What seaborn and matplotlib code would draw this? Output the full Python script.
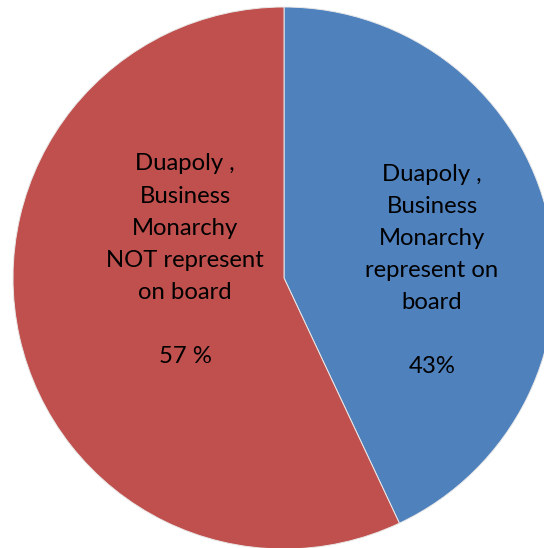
import matplotlib
matplotlib.use("Agg")
import matplotlib.pyplot as plt
import seaborn as sns

# Share of boards with / without duopoly or business-monarchy representation
categories = ["Duapoly ,\nBusiness\nMonarchy\nrepresent on\nboard",
              "Duapoly ,\nBusiness\nMonarchy\nNOT represent\non board"]
shares = [43, 57]
pct_labels = ["43%", "57 %"]

sns.set_theme(style="white")
plt.rcParams["font.family"] = ["Lato", "DejaVu Sans"]
colors = sns.color_palette(["#4F81BD", "#C0504D"])

fig = plt.figure(figsize=(5.44, 5.48), dpi=100)
ax = fig.add_axes([13 / 544, -1 / 548, 542 / 544, 542 / 548])

wedges, _ = ax.pie(shares, colors=colors, startangle=90, counterclock=False,
                   radius=1.0, center=(0, 0),
                   wedgeprops=dict(edgecolor="#e8e8e8", linewidth=0.7))

# label block positions inside each slice (in pie-radius units)
label_pos = [(0.546, 0.028), (-0.365, 0.066)]
for cat, pct, (lx, ly) in zip(categories, pct_labels, label_pos):
    ax.text(lx, ly, f"{cat}\n\n{pct}", ha="center", va="center",
            multialignment="center", fontsize=17.2, color="black",
            linespacing=1.65)

ax.set_xlim(-1, 1)
ax.set_ylim(-1, 1)
ax.set_aspect("equal")
ax.axis("off")

fig.savefig("out.png", dpi=100)
